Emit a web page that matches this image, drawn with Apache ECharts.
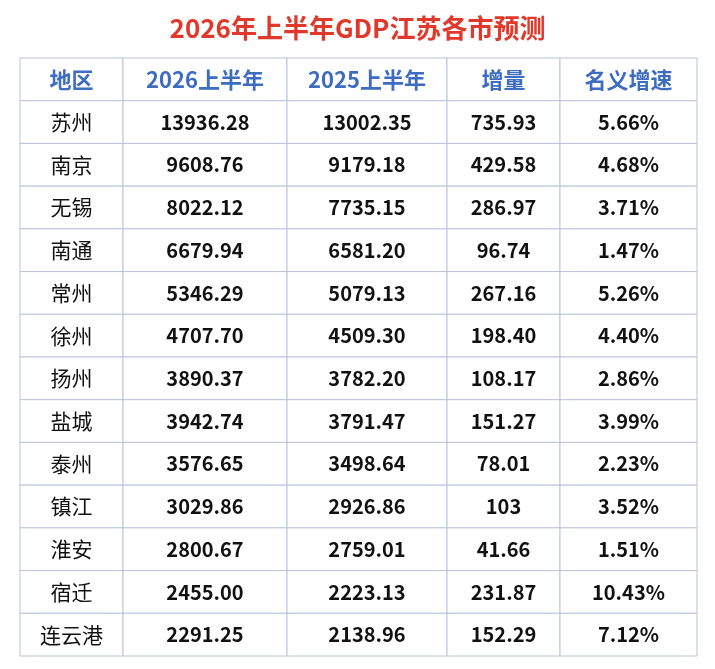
<!DOCTYPE html>
<html>
<head>
<meta charset="utf-8">
<script src="https://cdn.jsdelivr.net/npm/echarts@6/dist/echarts.min.js"></script>
<style>html,body{margin:0;padding:0;background:#fff}#main{width:715px;height:669px}</style>
</head>
<body>
<div id="main"></div>
<script>
// 表头与数据
const headers = ['地区', '2026上半年', '2025上半年', '增量', '名义增速'];
const cities = ['苏州', '南京', '无锡', '南通', '常州', '徐州', '扬州', '盐城', '泰州', '镇江', '淮安', '宿迁', '连云港'];
const gdp2026 = ['13936.28', '9608.76', '8022.12', '6679.94', '5346.29', '4707.70', '3890.37', '3942.74', '3576.65', '3029.86', '2800.67', '2455.00', '2291.25'];
const gdp2025 = ['13002.35', '9179.18', '7735.15', '6581.20', '5079.13', '4509.30', '3782.20', '3791.47', '3498.64', '2926.86', '2759.01', '2223.13', '2138.96'];
const increase = ['735.93', '429.58', '286.97', '96.74', '267.16', '198.40', '108.17', '151.27', '78.01', '103', '41.66', '231.87', '152.29'];
const growth = ['5.66%', '4.68%', '3.71%', '1.47%', '5.26%', '4.40%', '2.86%', '3.99%', '2.23%', '3.52%', '1.51%', '10.43%', '7.12%'];

// 列边界（布局）
const colEdges = [0, 103, 267, 427, 540, 677];

const cells = [];
headers.forEach((h, c) => cells.push([c, 0, h]));
cities.forEach((name, i) => {
  [name, gdp2026[i], gdp2025[i], increase[i], growth[i]].forEach((v, c) => cells.push([c, i + 1, v]));
});

const chart = echarts.init(document.getElementById('main'));
chart.setOption({
  backgroundColor: '#fff',
  title: {
    text: '2026年上半年GDP江苏各市预测',
    left: 'center', top: 10,
    textStyle: { color: '#e0382a', fontSize: 26, fontWeight: 'bold', fontFamily: 'Noto Sans CJK SC' }
  },
  grid: { left: 20, right: 18, top: 58, bottom: 13 },
  xAxis: { type: 'value', min: 0, max: 677, show: false },
  yAxis: { type: 'value', min: 0, max: cities.length + 1, inverse: true, show: false },
  series: [{
    type: 'custom',
    data: cells,
    renderItem: function (params, api) {
      const c = api.value(0), r = api.value(1);
      const p0 = api.coord([colEdges[c], r]);
      const p1 = api.coord([colEdges[c + 1], r + 1]);
      const isHead = r === 0;
      return {
        type: 'group',
        children: [{
          type: 'rect',
          shape: { x: p0[0], y: p0[1], width: p1[0] - p0[0], height: p1[1] - p0[1] },
          style: { fill: '#fff', stroke: '#b9c3dc', lineWidth: 1 }
        }, {
          type: 'text',
          style: {
            x: (p0[0] + p1[0]) / 2, y: (p0[1] + p1[1]) / 2,
            text: cells[params.dataIndex][2],
            align: 'center', verticalAlign: 'middle',
            fill: isHead ? '#3d6cc0' : '#111',
            font: (isHead ? 'bold 22px' : (c === 0 ? '21px' : 'bold 20px')) + ' "Noto Sans CJK SC"'
          }
        }]
      };
    }
  }]
});
</script>
</body>
</html>
